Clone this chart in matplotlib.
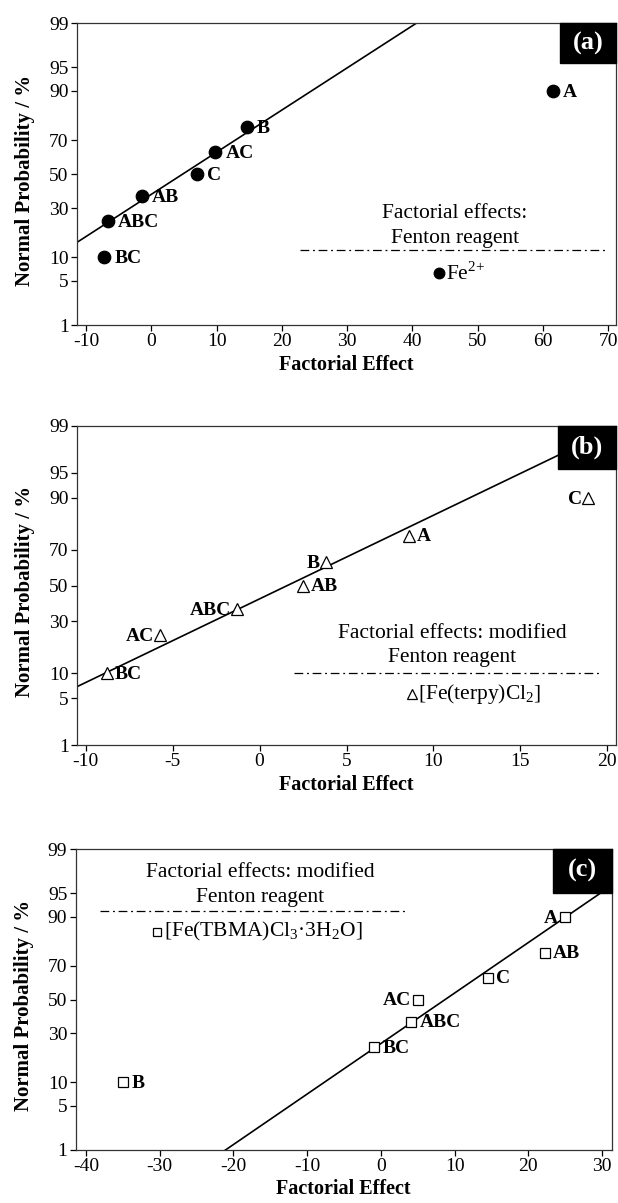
#!/usr/bin/env python3
"""Normal probability plots of factorial effects, three Fenton reagents"""
from statistics import NormalDist
import numpy as np
import matplotlib
matplotlib.use('Agg')
import matplotlib.pyplot as plt
from matplotlib.patches import Rectangle

plt.rcParams['font.family'] = ['Liberation Serif', 'DejaVu Serif']
plt.rcParams['mathtext.fontset'] = 'custom'
plt.rcParams['mathtext.rm'] = 'Liberation Serif'

# ── data ──────────────────────────────────────────────────────────────────────
effect_names = ['A', 'B', 'C', 'AB', 'AC', 'BC', 'ABC']
effects_a = [61.5, 14.6, 7.0, -1.5, 9.8, -7.2, -6.7]
effects_b = [8.6, 3.8, 18.9, 2.5, -5.7, -8.8, -1.3]
effects_c = [24.9, -35.0, 14.5, 22.2, 5.0, -0.9, 4.1]
prob_levels = [10, 23.33, 36.67, 50, 63.33, 76.67, 90]   # by rank of effect

# fitted normal line: effect at 50 %, effect per unit z
fit_a = (4.8, 15.4)
fit_b = (1.6, 8.2)
fit_c = (8.7, 12.8)

prob_ticks = [1, 5, 10, 30, 50, 70, 90, 95, 99]
xticks_a = [-10, 0, 10, 20, 30, 40, 50, 60, 70]
xticks_b = [-10, -5, 0, 5, 10, 15, 20]
xticks_c = [-40, -30, -20, -10, 0, 10, 20, 30]

# label side for each effect (r = label right of marker)
side_a = ['r', 'r', 'r', 'r', 'r', 'r', 'r']
side_b = ['r', 'l', 'l', 'r', 'l', 'r', 'l']
side_c = ['l', 'r', 'r', 'r', 'l', 'r', 'r']

ND = NormalDist()
DASHDOT = (0, (7, 3, 1.5, 3))


def fwd(p):
    p = np.clip(np.asarray(p, float), 1e-9, 100 - 1e-9)
    return np.vectorize(ND.inv_cdf, otypes=[float])(p / 100.0)


def inv(z):
    return np.vectorize(lambda v: 100.0 * ND.cdf(v), otypes=[float])(np.asarray(z, float))


def panel(ax, effects, fit, xlim, xticks, marker, mfc, ms, sides, off, tag,
          leg_lines, leg_xy, dash_x, dash_y, mark_xy, leg_label, box_x0, box_y0):
    order = np.argsort(effects)
    probs = np.empty(len(effects))
    probs[order] = prob_levels

    ax.set_yscale('function', functions=(fwd, inv))
    mu, sig = fit
    lx = np.array(xlim)
    ly = inv((lx - mu) / sig)
    ax.plot(lx, ly, color='black', linewidth=1.2, zorder=2)

    ax.plot(effects, probs, linestyle='none', marker=marker, color='black',
            mfc=mfc, mec='black', ms=ms, mew=0.9, zorder=3)
    for name, x, y, s in zip(effect_names, effects, probs, sides):
        if s == 'r':
            ax.annotate(name, (x, y), xytext=(off, -1), textcoords='offset points',
                        ha='left', va='center', fontsize=14, fontweight='bold')
        else:
            ax.annotate(name, (x, y), xytext=(-off + 1, -1), textcoords='offset points',
                        ha='right', va='center', fontsize=14, fontweight='bold')

    # legend block
    for txt, (tx, ty) in zip(leg_lines, leg_xy):
        ax.text(tx, ty, txt, transform=ax.transAxes, ha='center', va='center', fontsize=15.5)
    ax.plot(dash_x, [dash_y, dash_y], transform=ax.transAxes, color='black',
            linestyle=DASHDOT, linewidth=0.9)
    ax.plot([mark_xy[0]], [mark_xy[1]], transform=ax.transAxes, marker=marker,
            color='black', mfc=mfc, mec='black', ms=ms * 0.85, mew=0.9)
    ax.text(mark_xy[0] + 0.012, mark_xy[1], leg_label, transform=ax.transAxes,
            ha='left', va='center', fontsize=15.5)

    # panel tag
    ax.add_patch(Rectangle((box_x0, box_y0), 1 - box_x0, 1 - box_y0, transform=ax.transAxes,
                           facecolor='black', edgecolor='black', zorder=5, clip_on=False))
    ax.text((1 + box_x0) / 2, (1 + box_y0) / 2, tag, transform=ax.transAxes, color='white',
            ha='center', va='center', fontsize=19, fontweight='bold', zorder=6)

    ax.set_xlim(xlim)
    ax.set_ylim(1, 99)
    ax.set_yticks(prob_ticks)
    ax.set_yticklabels([str(t) for t in prob_ticks])
    ax.yaxis.set_minor_locator(matplotlib.ticker.NullLocator())
    ax.set_xticks(xticks)
    ax.set_xticklabels([str(t) for t in xticks])
    ax.tick_params(direction='out', length=4, width=0.9, labelsize=14, pad=2)
    ax.set_xlabel('Factorial Effect', fontsize=14.5, fontweight='bold', labelpad=3)
    ax.set_ylabel('Normal Probability / %', fontsize=15, fontweight='bold')
    ax.yaxis.set_label_coords(-0.077, 0.48)
    for sp in ax.spines.values():
        sp.set_linewidth(0.9)
        sp.set_color('#333333')


fig = plt.figure(figsize=(6.18, 12.03), dpi=100)
ax_a = fig.add_axes([0.1246, 0.7298, 0.8722, 0.2510])
ax_b = fig.add_axes([0.1246, 0.3807, 0.8722, 0.2652])
ax_c = fig.add_axes([0.1225, 0.0441, 0.8673, 0.2500])

panel(ax_a, effects_a, fit_a, (-11.4, 71.2), xticks_a, 'o', 'black', 9, side_a, 7.5, '(a)',
      ['Factorial effects:', 'Fenton reagent'], [(0.701, 0.371), (0.701, 0.285)],
      [0.414, 0.985], 0.248, (0.672, 0.172), 'Fe$^{2{+}}$', 0.896, 0.868)
panel(ax_b, effects_b, fit_b, (-10.5, 20.5), xticks_b, '^', 'white', 8, side_b, 5.5, '(b)',
      ['Factorial effects: modified', 'Fenton reagent'], [(0.696, 0.348), (0.696, 0.273)],
      [0.402, 0.968], 0.226, (0.621, 0.160), '[Fe(terpy)Cl$_2$]', 0.8925, 0.865)
panel(ax_c, effects_c, fit_c, (-41.4, 31.3), xticks_c, 's', 'white', 6.5, side_c, 6, '(c)',
      ['Factorial effects: modified', 'Fenton reagent'], [(0.344, 0.921), (0.344, 0.838)],
      [0.046, 0.615], 0.795, (0.152, 0.725), '[Fe(TBMA)Cl$_3$·3H$_2$O]', 0.8906, 0.856)

plt.savefig('out.png', dpi=100)
plt.close()
